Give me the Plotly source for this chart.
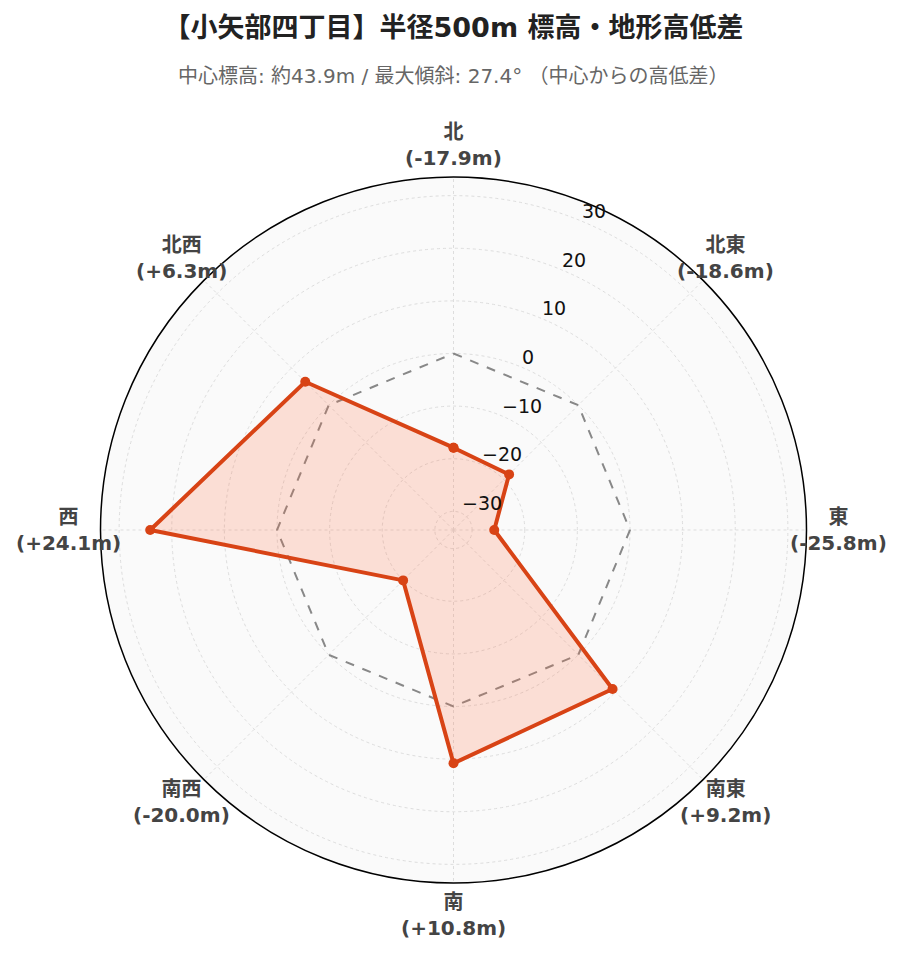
import math
import plotly.graph_objects as go

directions = ["北", "北東", "東", "南東", "南", "南西", "西", "北西"]
diffs = [-17.9, -18.6, -25.8, 9.2, 10.8, -20.0, 24.1, 6.3]
radial_ticks = [-30, -20, -10, 0, 10, 20, 30]

max_abs = max(abs(v) for v in diffs)
rng = max_abs * 1.3

labels = [f"<b>{d}<br>({v:+.1f}m)</b>" for d, v in zip(directions, diffs)]
theta_closed = directions + [directions[0]]
r_closed = diffs + [diffs[0]]

FONT = "DejaVu Sans, Noto Sans CJK JP, sans-serif"
W, H = 903, 962
M = dict(l=92, r=104, t=169, b=87)
plot_w = W - M["l"] - M["r"]
plot_h = H - M["t"] - M["b"]
radius_px = min(plot_w, plot_h) / 2
label_dist = 385  # px from centre to label block centre
radial_angle = 67.5

fig = go.Figure()
fig.add_trace(go.Scatterpolar(
    r=[0] * (len(directions) + 1), theta=theta_closed, mode="lines",
    line=dict(color="#888888", width=2, dash="dash"),
    hoverinfo="skip", showlegend=False,
))
fig.add_trace(go.Scatterpolar(
    r=r_closed, theta=theta_closed, mode="lines+markers",
    fill="toself", fillcolor="rgba(255,112,67,0.2)",
    line=dict(color="#d84315", width=4),
    marker=dict(color="#d84315", size=10),
    showlegend=False,
))

annotations = [dict(
    text="中心標高: 約43.9m / 最大傾斜: 27.4° （中心からの高低差）",
    x=0.5, xref="paper", xanchor="center",
    y=1 + (M["t"] - 68) / plot_h, yref="paper", yanchor="middle",
    showarrow=False,
    font=dict(size=20, color="#666666", family=FONT),
)]
n = len(directions)
for i, lab in enumerate(labels):
    a = math.radians(90 - 360 * i / n)
    annotations.append(dict(
        text=lab, showarrow=False,
        x=0.5 + label_dist * math.cos(a) / plot_w,
        y=0.5 + label_dist * math.sin(a) / plot_h,
        xref="paper", yref="paper", xanchor="center", yanchor="middle",
        align="center",
        font=dict(size=20, color="#444444", family=FONT),
    ))

# radial tick labels, horizontal, along the radial axis direction
ra = math.radians(radial_angle)
for v in radial_ticks:
    rp = (v + rng) / (2 * rng) * radius_px
    annotations.append(dict(
        text=f"{v}".replace("-", "\u2212"), showarrow=False,
        x=0.5 + rp * math.cos(ra) / plot_w,
        y=0.5 + rp * math.sin(ra) / plot_h,
        xref="paper", yref="paper", xanchor="left", yanchor="middle",
        xshift=0, yshift=10, borderpad=0,
        font=dict(size=19, color="#111111", family=FONT),
    ))

fig.update_layout(
    width=W, height=H,
    margin=M,
    paper_bgcolor="white",
    font=dict(family=FONT),
    title=dict(
        text="<b>【小矢部四丁目】半径500m 標高・地形高低差</b>",
        x=0.5, xanchor="center", xref="paper",
        y=1 - 20 / H, yanchor="middle", yref="container",
        font=dict(size=27, color="#222222", family=FONT),
    ),
    annotations=annotations,
    polar=dict(
        bgcolor="#fafafa",
        angularaxis=dict(
            rotation=90, direction="clockwise",
            linecolor="black", linewidth=1.5, showline=True,
            gridcolor="#dddddd", griddash="dot",
            showticklabels=False, ticks="",
        ),
        radialaxis=dict(
            range=[-rng, rng], angle=radial_angle,
            tickvals=radial_ticks,
            showline=False, ticks="", showticklabels=False,
            gridcolor="#dddddd", griddash="dot",
        ),
    ),
)

fig.write_html("out.html")
